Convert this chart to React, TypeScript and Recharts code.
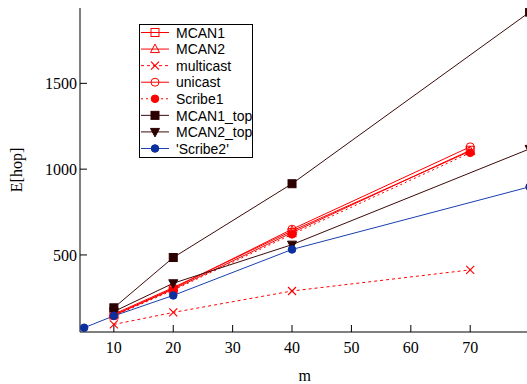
import { LineChart, Line, XAxis, YAxis, Label } from "recharts";

// m values shared by all series; null where a series has no point
const mValues = [5, 10, 20, 40, 70, 80];

const mcan1 = [null, 150, 300, 630, 1110, null];
const mcan2 = [null, 155, 310, 640, 1105, null];
const multicast = [null, 95, 165, 290, 413, null];
const unicast = [null, 148, 305, 650, 1130, null];
const scribe1 = [null, 145, 295, 620, 1095, null];
const mcan1Top = [null, 192, 485, 915, null, 1915];
const mcan2Top = [null, 170, 335, 560, null, 1118];
const scribe2 = [76, 145, 264, 532, null, 897];

const xTicks = [10, 20, 30, 40, 50, 60, 70];
const yTicks = [500, 1000, 1500];

type Shape = "square" | "triangle" | "triangleDown" | "cross" | "circle";

interface SeriesDef {
  key: string;
  name: string;
  values: (number | null)[];
  color: string;
  markerColor: string;
  shape: Shape;
  filled: boolean;
  dash?: string;
}

const SERIES: SeriesDef[] = [
  { key: "mcan1", name: "MCAN1", values: mcan1, color: "#ff0000", markerColor: "#ff0000", shape: "square", filled: false },
  { key: "mcan2", name: "MCAN2", values: mcan2, color: "#ff0000", markerColor: "#ff0000", shape: "triangle", filled: false },
  { key: "multicast", name: "multicast", values: multicast, color: "#ff0000", markerColor: "#ff0000", shape: "cross", filled: false, dash: "3 3" },
  { key: "unicast", name: "unicast", values: unicast, color: "#ff0000", markerColor: "#ff0000", shape: "circle", filled: false },
  { key: "scribe1", name: "Scribe1", values: scribe1, color: "#ff0000", markerColor: "#ff0000", shape: "circle", filled: true, dash: "2 3" },
  { key: "mcan1Top", name: "MCAN1_top", values: mcan1Top, color: "#3d0a0a", markerColor: "#2d0000", shape: "square", filled: true },
  { key: "mcan2Top", name: "MCAN2_top", values: mcan2Top, color: "#3d0a0a", markerColor: "#2d0000", shape: "triangleDown", filled: true },
  { key: "scribe2", name: "'Scribe2'", values: scribe2, color: "#1a3fb0", markerColor: "#0b2f9e", shape: "circle", filled: true },
];

const rows = mValues.map((m, i) => {
  const row: Record<string, number | null> = { m };
  SERIES.forEach((s) => {
    row[s.key] = s.values[i];
  });
  return row;
});

const serif = "'Liberation Serif', 'Times New Roman', serif";
const sans = "'Liberation Sans', Arial, sans-serif";

function Marker({ shape, x, y, color, filled }: { shape: Shape; x: number; y: number; color: string; filled: boolean }) {
  const fill = filled ? color : "none";
  switch (shape) {
    case "square":
      return <rect x={x - 4} y={y - 4} width={8} height={8} fill={fill} stroke={color} strokeWidth={1} />;
    case "triangle":
      return <polygon points={`${x},${y - 5} ${x - 4.5},${y + 3.5} ${x + 4.5},${y + 3.5}`} fill={fill} stroke={color} strokeWidth={1} />;
    case "triangleDown":
      return <polygon points={`${x},${y + 5} ${x - 4.5},${y - 3.5} ${x + 4.5},${y - 3.5}`} fill={fill} stroke={color} strokeWidth={1} />;
    case "cross":
      return (
        <g stroke={color} strokeWidth={1.2}>
          <line x1={x - 4} y1={y - 4} x2={x + 4} y2={y + 4} />
          <line x1={x - 4} y1={y + 4} x2={x + 4} y2={y - 4} />
        </g>
      );
    case "circle":
    default:
      return <circle cx={x} cy={y} r={filled ? 3.8 : 4} fill={fill} stroke={color} strokeWidth={1} />;
  }
}

function makeDot(s: SeriesDef) {
  return (p: any) => {
    if (p.cx == null || p.cy == null || p.value == null) return <g key={`${s.key}-${p.index}`} />;
    return (
      <g key={`${s.key}-${p.index}`}>
        <Marker shape={s.shape} x={p.cx} y={p.cy} color={s.markerColor} filled={s.filled} />
      </g>
    );
  };
}

// serif tick labels, below the bottom axis and left of the y axis
const BottomTick = (p: any) => (
  <text x={p.x} y={p.y} dy="0.71em" textAnchor="middle" style={{ fontFamily: serif, fontSize: 16, fill: "#000" }}>
    {p.payload.value}
  </text>
);

const LeftTick = (p: any) => (
  <text x={p.x} y={p.y} dy="0.355em" textAnchor="end" style={{ fontFamily: serif, fontSize: 16, fill: "#000" }}>
    {p.payload.value}
  </text>
);

function KeyBox() {
  const rowH = 16.57;
  return (
    <svg width={115} height={135} style={{ position: "absolute", left: 139, top: 24, fontFamily: sans }}>
      <rect x={0.5} y={0.5} width={113} height={133} fill="#fff" stroke="#000" strokeWidth={1} />
      {SERIES.map((s, i) => {
        const cy = 8.5 + i * rowH;
        return (
          <g key={s.key}>
            <line x1={2} y1={cy} x2={30} y2={cy} stroke={s.color} strokeWidth={1} strokeDasharray={s.dash} />
            <Marker shape={s.shape} x={16} y={cy} color={s.markerColor} filled={s.filled} />
            <text x={37} y={cy + 5.2} style={{ fontFamily: sans, fontSize: 14, fill: "#000" }}>
              {s.name}
            </text>
          </g>
        );
      })}
    </svg>
  );
}

export default function App() {
  return (
    <div
      style={{
        position: "fixed",
        left: 0,
        top: 0,
        width: 527,
        height: 384,
        overflow: "hidden",
        background: "#fff",
        fontFamily: serif,
        fontSize: 16,
      }}
    >
      <LineChart width={540} height={384} data={rows} margin={{ top: 8, right: 10.4, left: 0, bottom: 0 }}>
        <XAxis
          xAxisId="b"
          dataKey="m"
          type="number"
          domain={[4.3, 80]}
          ticks={xTicks}
          interval={0}
          allowDataOverflow
          height={52}
          tickSize={-7}
          tickMargin={17}
          stroke="#000"
          tick={BottomTick}
        >
          <Label value="m" position="insideBottom" offset={3} style={{ fill: "#000", fontSize: 16, fontFamily: serif }} />
        </XAxis>
        <XAxis
          xAxisId="t"
          orientation="top"
          dataKey="m"
          type="number"
          domain={[4.3, 80]}
          ticks={xTicks}
          interval={0}
          allowDataOverflow
          height={0}
          tickSize={-7}
          stroke="#000"
          tick={false}
        />
        <YAxis
          yAxisId="l"
          type="number"
          domain={[51, 1939]}
          ticks={yTicks}
          interval={0}
          allowDataOverflow
          width={80}
          tickSize={-7}
          tickMargin={10}
          stroke="#000"
          tick={LeftTick}
        >
          <Label
            content={() => (
              <text x={22} y={170} transform="rotate(-90 22 170)" textAnchor="middle" style={{ fontFamily: serif, fontSize: 16, fill: "#000" }}>
                E[hop]
              </text>
            )}
          />
        </YAxis>
        <YAxis
          yAxisId="r"
          orientation="right"
          type="number"
          domain={[51, 1939]}
          ticks={yTicks}
          interval={0}
          allowDataOverflow
          width={0}
          tickSize={-7}
          stroke="#000"
          tick={false}
        />
        {SERIES.map((s) => (
          <Line
            key={s.key}
            xAxisId="b"
            yAxisId="l"
            type="linear"
            dataKey={s.key}
            name={s.name}
            stroke={s.color}
            strokeWidth={1}
            strokeDasharray={s.dash}
            connectNulls
            dot={makeDot(s)}
            activeDot={false}
            isAnimationActive={false}
          />
        ))}
      </LineChart>
      <KeyBox />
    </div>
  );
}
